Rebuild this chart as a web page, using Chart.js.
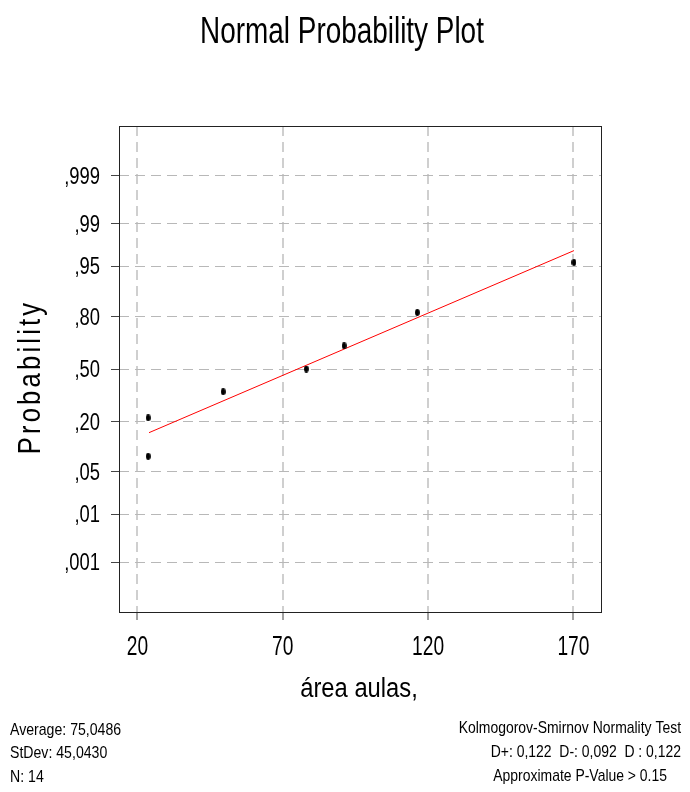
<!DOCTYPE html>
<html>
<head>
<meta charset="utf-8">
<script src="https://cdn.jsdelivr.net/npm/chart.js@4.4.1/dist/chart.umd.min.js"></script>
<style>
  html, body { margin: 0; padding: 0; background: #fff; }
</style>
</head>
<body>
<canvas id="chart" width="690" height="792"></canvas>
<script>
// values
const areaValues = [23.7, 23.7, 49.5, 78.1, 91.1, 116.3, 170.2];
const probValues = [0.081, 0.217, 0.358, 0.50, 0.645, 0.817, 0.956];
const fitX = [24.0, 170.2];
const fitProb = [0.154, 0.971];
const xTicks = [20, 70, 120, 170];
const yTickProbs = [0.001, 0.01, 0.05, 0.20, 0.50, 0.80, 0.95, 0.99, 0.999];
const yTickLabels = [',001', ',01', ',05', ',20', ',50', ',80', ',95', ',99', ',999'];
const statsLeft = ['Average: 75,0486', 'StDev: 45,0430', 'N: 14'];
const statsRight = ['Kolmogorov-Smirnov Normality Test', 'D+: 0,122  D-: 0,092  D : 0,122', 'Approximate P-Value > 0.15'];

// no narrow font installed, so text gets squeezed horizontally
const family = "'Liberation Sans', Arial, sans-serif";

// inverse normal cdf (Acklam), used for the probability scale
function probit(p) {
  const a = [-3.969683028665376e+01, 2.209460984245205e+02, -2.759285104469687e+02, 1.383577518672690e+02, -3.066479806614716e+01, 2.506628277459239e+00];
  const b = [-5.447609879822406e+01, 1.615858368580409e+02, -1.556989798598866e+02, 6.680131188771972e+01, -1.328068155288572e+01];
  const c = [-7.784894002430293e-03, -3.223964580411365e-01, -2.400758277161838e+00, -2.549732539343734e+00, 4.374664141464968e+00, 2.938163982698783e+00];
  const d = [7.784695709041462e-03, 3.224671290700398e-01, 2.445134137142996e+00, 3.754408661907416e+00];
  const pl = 0.02425;
  let q, r;
  if (p < pl) {
    q = Math.sqrt(-2 * Math.log(p));
    return (((((c[0]*q+c[1])*q+c[2])*q+c[3])*q+c[4])*q+c[5]) / ((((d[0]*q+d[1])*q+d[2])*q+d[3])*q+1);
  }
  if (p > 1 - pl) {
    q = Math.sqrt(-2 * Math.log(1 - p));
    return -(((((c[0]*q+c[1])*q+c[2])*q+c[3])*q+c[4])*q+c[5]) / ((((d[0]*q+d[1])*q+d[2])*q+d[3])*q+1);
  }
  q = p - 0.5; r = q * q;
  return (((((a[0]*r+a[1])*r+a[2])*r+a[3])*r+a[4])*r+a[5])*q / (((((b[0]*r+b[1])*r+b[2])*r+b[3])*r+b[4])*r+1);
}

// small black oval marker
const dot = document.createElement('canvas');
dot.width = 5; dot.height = 7;
const dctx = dot.getContext('2d');
dctx.fillStyle = '#000';
dctx.beginPath();
dctx.ellipse(2.5, 3.5, 2.4, 3.4, 0, 0, Math.PI * 2);
dctx.fill();

function squeezed(ctx, text, x, y, size, sx, align) {
  ctx.save();
  ctx.translate(x, y);
  ctx.scale(sx, 1);
  ctx.font = size + 'px ' + family;
  ctx.textAlign = align;
  ctx.textBaseline = 'alphabetic';
  ctx.fillText(text, 0, 0);
  ctx.restore();
}

const textPlugin = {
  id: 'texts',
  afterDraw(chart) {
    const ctx = chart.ctx;
    const a = chart.chartArea;
    const xs = chart.scales.x, ys = chart.scales.y;
    ctx.save();
    ctx.strokeStyle = '#222';
    ctx.lineWidth = 1;
    ctx.strokeRect(a.left + 0.5, a.top + 0.5, a.right - a.left - 1, a.bottom - a.top);
    ctx.fillStyle = '#000';

    // tick labels placed with the scales
    xTicks.forEach(v => squeezed(ctx, String(v), xs.getPixelForValue(v), 655, 27, 0.71, 'center'));
    yTickProbs.forEach((p, i) => squeezed(ctx, yTickLabels[i], 100, ys.getPixelForValue(probit(p)) + 8.2, 23, 0.8, 'right'));

    squeezed(ctx, 'Normal Probability Plot', 342, 43, 36, 0.775, 'center');
    squeezed(ctx, 'área aulas,', 359, 697, 27, 0.88, 'center');

    ctx.save();
    ctx.translate(40, 377);
    ctx.rotate(-Math.PI / 2);
    ctx.scale(0.8, 1);
    ctx.font = '32px ' + family;
    ctx.letterSpacing = '4px';
    ctx.textAlign = 'center';
    ctx.fillText('Probability', 0, 0);
    ctx.restore();

    statsLeft.forEach((t, i) => squeezed(ctx, t, 10, 735 + i * 23.3, 17, 0.83, 'left'));
    squeezed(ctx, statsRight[0], 681, 733, 17, 0.82, 'right');
    squeezed(ctx, statsRight[1], 681, 757, 17, 0.82, 'right');
    squeezed(ctx, statsRight[2], 667, 781, 17, 0.82, 'right');
    ctx.restore();
  }
};

new Chart(document.getElementById('chart'), {
  type: 'scatter',
  data: {
    datasets: [
      {
        data: areaValues.map((x, i) => ({ x, y: probit(probValues[i]) })),
        pointStyle: dot,
        pointRadius: 3,
        order: 1
      },
      {
        type: 'line',
        data: fitX.map((x, i) => ({ x, y: probit(fitProb[i]) })),
        borderColor: '#ff0000',
        borderWidth: 1,
        pointRadius: 0,
        fill: false,
        order: 2
      }
    ]
  },
  options: {
    responsive: false,
    animation: false,
    layout: { padding: { left: 0, right: 88, top: 126, bottom: 0 } },
    plugins: { legend: { display: false }, tooltip: { enabled: false } },
    scales: {
      x: {
        type: 'linear',
        min: 13.67,
        max: 179.84,
        afterBuildTicks: s => { s.ticks = xTicks.map(v => ({ value: v })); },
        afterFit: s => { s.height = 180; },
        grid: { color: '#cfcfcf', lineWidth: 2, tickColor: '#444', tickLength: 8, tickWidth: 1, tickBorderDash: [] },
        border: { display: false, dash: [10, 6] },
        ticks: { display: false }
      },
      y: {
        type: 'linear',
        min: probit(0.00005),
        max: probit(0.99995),
        afterBuildTicks: s => { s.ticks = yTickProbs.map(p => ({ value: probit(p) })); },
        afterFit: s => { s.width = 119; },
        grid: { color: '#b8b8b8', lineWidth: 1, tickColor: '#444', tickLength: 8, tickWidth: 1, tickBorderDash: [] },
        border: { display: false, dash: [10, 6] },
        ticks: { display: false }
      }
    }
  },
  plugins: [textPlugin]
});
</script>
</body>
</html>
